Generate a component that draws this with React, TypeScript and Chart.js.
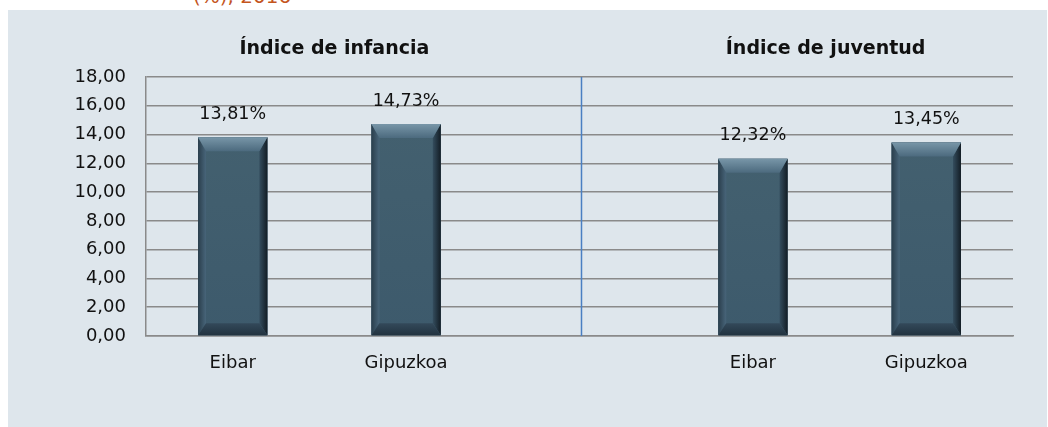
import React, { useEffect, useRef } from "react";
import { Chart, registerables } from "chart.js";

Chart.register(...registerables);

const categories = ["Eibar", "Gipuzkoa", "", "Eibar", "Gipuzkoa"];
const values: (number | null)[] = [13.81, 14.73, null, 12.32, 13.45];
const groupTitles = ["Índice de infancia", "Índice de juventud"];
const yMin = 0;
const yMax = 18;
const yStep = 2;
const subtitle = "(%), 2016";

const FONT = "'DejaVu Sans', sans-serif";
const fmt = (v: number, d = 2) => v.toFixed(d).replace(".", ",");

const decorPlugin = {
  id: "decor",
  beforeDatasetsDraw(chart: any) {
    const { ctx, chartArea } = chart;
    const xs = chart.scales.x;
    const sx = Math.round(xs.getPixelForValue(2)) + 1.5;
    ctx.save();
    ctx.strokeStyle = "#4a7fc2";
    ctx.lineWidth = 1.5;
    ctx.beginPath();
    ctx.moveTo(sx, chartArea.top);
    ctx.lineTo(sx, chartArea.bottom);
    ctx.stroke();
    ctx.restore();
  },
  afterDatasetsDraw(chart: any) {
    const { ctx } = chart;
    const meta = chart.getDatasetMeta(0);
    meta.data.forEach((bar: any, i: number) => {
      const v = values[i];
      if (v == null) return;
      const p = bar.getProps(["x", "y", "base", "width"], true);
      const l = p.x - p.width / 2;
      const r = p.x + p.width / 2;
      const t = p.y;
      const b = p.base;
      const s = 8;
      const tt = 14;
      const bb = 12;
      ctx.save();
      const fg = ctx.createLinearGradient(0, t, 0, b);
      fg.addColorStop(0, "#43606f");
      fg.addColorStop(1, "#3d5a6c");
      ctx.fillStyle = fg;
      ctx.fillRect(l, t, r - l, b - t);
      let g = ctx.createLinearGradient(l, 0, l + s, 0);
      g.addColorStop(0, "#2a3e4c");
      g.addColorStop(1, "#48657a");
      ctx.fillStyle = g;
      ctx.beginPath();
      ctx.moveTo(l, t);
      ctx.lineTo(l + s, t + tt);
      ctx.lineTo(l + s, b - bb);
      ctx.lineTo(l, b);
      ctx.closePath();
      ctx.fill();
      g = ctx.createLinearGradient(r - s, 0, r, 0);
      g.addColorStop(0, "#344d5e");
      g.addColorStop(1, "#131d25");
      ctx.fillStyle = g;
      ctx.beginPath();
      ctx.moveTo(r, t);
      ctx.lineTo(r - s, t + tt);
      ctx.lineTo(r - s, b - bb);
      ctx.lineTo(r, b);
      ctx.closePath();
      ctx.fill();
      g = ctx.createLinearGradient(0, t, 0, t + tt);
      g.addColorStop(0, "#7896a8");
      g.addColorStop(1, "#4c6a7e");
      ctx.fillStyle = g;
      ctx.beginPath();
      ctx.moveTo(l, t);
      ctx.lineTo(r, t);
      ctx.lineTo(r - s, t + tt);
      ctx.lineTo(l + s, t + tt);
      ctx.closePath();
      ctx.fill();
      g = ctx.createLinearGradient(0, b - bb, 0, b);
      g.addColorStop(0, "#33495a");
      g.addColorStop(1, "#223340");
      ctx.fillStyle = g;
      ctx.beginPath();
      ctx.moveTo(l, b);
      ctx.lineTo(r, b);
      ctx.lineTo(r - s, b - bb);
      ctx.lineTo(l + s, b - bb);
      ctx.closePath();
      ctx.fill();
      ctx.fillStyle = "#111111";
      ctx.font = `17.5px ${FONT}`;
      ctx.textAlign = "center";
      ctx.textBaseline = "middle";
      ctx.fillText(fmt(v) + "%", p.x, t - 23);
      ctx.restore();
    });
    const xs = chart.scales.x;
    const c1 = (xs.getPixelForValue(0) + xs.getPixelForValue(1)) / 2 + 15;
    const c2 = (xs.getPixelForValue(3) + xs.getPixelForValue(4)) / 2 - 14;
    ctx.save();
    ctx.fillStyle = "#111111";
    ctx.font = `bold 19px ${FONT}`;
    ctx.textAlign = "center";
    ctx.textBaseline = "middle";
    ctx.fillText(groupTitles[0], c1, 39);
    ctx.fillText(groupTitles[1], c2, 39);
    ctx.restore();
  },
};

export default function App() {
  const ref = useRef<HTMLCanvasElement | null>(null);
  useEffect(() => {
    if (!ref.current) return;
    const chart = new Chart(ref.current, {
      type: "bar",
      data: {
        labels: categories,
        datasets: [
          {
            data: values as any,
            backgroundColor: "#3d5a6c",
            borderWidth: 0,
            categoryPercentage: 1,
            barPercentage: 0.4,
          },
        ],
      },
      options: {
        animation: false,
        responsive: true,
        maintainAspectRatio: false,
        layout: { padding: { top: 67, right: 34, left: 0, bottom: 0 } },
        plugins: {
          legend: { display: false },
          tooltip: { enabled: false },
        },
        scales: {
          x: {
            grid: { display: false, drawTicks: false },
            border: { display: true, color: "#8a8a8a", width: 1.5 },
            ticks: {
              color: "#111111",
              font: { family: FONT, size: 18 },
              padding: 17,
              maxRotation: 0,
            },
            afterFit(s: any) {
              s.height = 91;
            },
          },
          y: {
            min: yMin,
            max: yMax,
            ticks: {
              stepSize: yStep,
              color: "#111111",
              font: { family: FONT, size: 18 },
              padding: 20,
              callback: (v: any) => fmt(Number(v)),
            },
            grid: { color: "#8a8a8a", lineWidth: 1.5, drawTicks: false },
            border: { color: "#8a8a8a", width: 1.5 },
            afterFit(s: any) {
              s.width = 138;
            },
          },
        },
      },
      plugins: [decorPlugin],
    });
    return () => chart.destroy();
  }, []);

  return (
    <div>
      <div
        style={{
          position: "absolute",
          left: 193,
          top: -14,
          fontFamily: FONT,
          fontSize: 20,
          lineHeight: "20px",
          color: "#c4551e",
          whiteSpace: "nowrap",
        }}
      >
        {subtitle}
      </div>
      <div
        style={{
          position: "absolute",
          left: 8,
          top: 10,
          width: 1039,
          height: 417,
          background: "#dee6ec",
        }}
      >
        <canvas ref={ref} />
      </div>
    </div>
  );
}
